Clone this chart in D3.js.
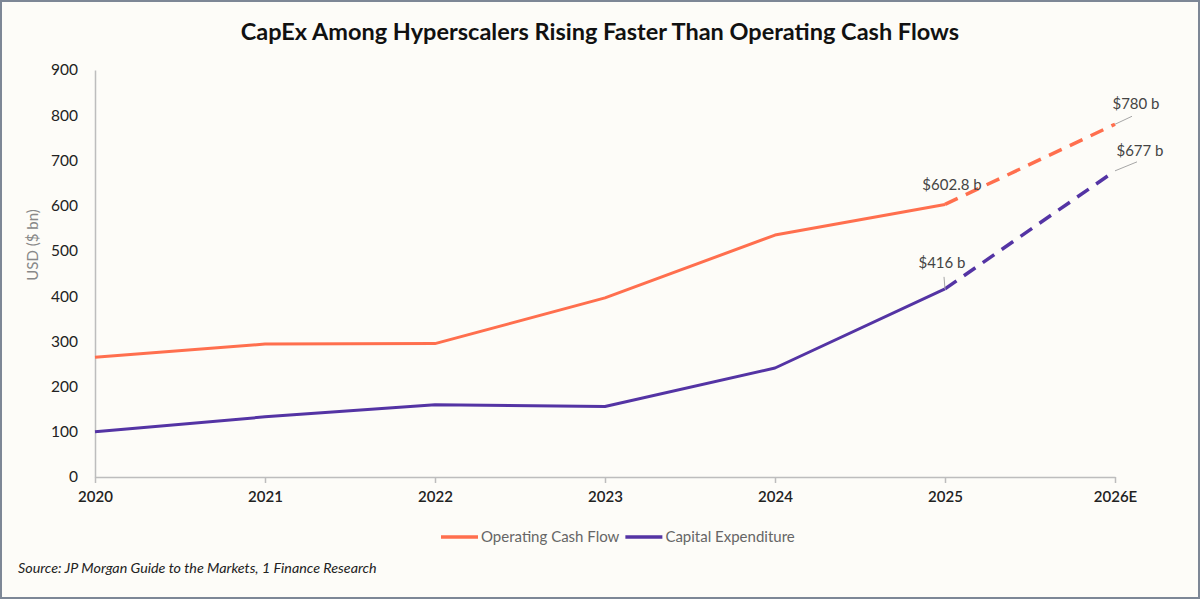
<!DOCTYPE html>
<html lang="en"><head><meta charset="utf-8">
<script src="https://cdn.jsdelivr.net/npm/d3@7/dist/d3.min.js"></script>
<style>
  body { margin: 0; background: #fff; }
  text { font-family: Lato, "Open Sans", sans-serif; }
</style>
</head>
<body>
<script>
// chart data
var years = ["2020", "2021", "2022", "2023", "2024", "2025", "2026E"];
var cashFlow = [265, 294, 295, 396, 535, 602.8, 780];
var capex = [100, 133, 160, 156, 241, 416, 677];
var yTicks = [0, 100, 200, 300, 400, 500, 600, 700, 800, 900];
var seriesNames = ["Operating Cash Flow", "Capital Expenditure"];
var seriesColors = ["#ff6f4e", "#5434a4"];
// callouts: series index, year index, label
var callouts = [
  {s: 0, i: 5, label: "$602.8 b", tx: 7, ty: -14, lead: null},
  {s: 0, i: 6, label: "$780 b", tx: 21, ty: -15, lead: [17, -8]},
  {s: 1, i: 5, label: "$416 b", tx: -3, ty: -21, lead: [-1, -12]},
  {s: 1, i: 6, label: "$677 b", tx: 25, ty: -15, lead: [22, -9]}
];

var width = 1200, height = 600;
var margin = {left: 95, right: 85, top: 70, bottom: 123};

var svg = d3.select("body").append("svg")
  .attr("width", width).attr("height", height);

svg.append("rect").attr("x", 1).attr("y", 1)
  .attr("width", width - 2).attr("height", height - 3)
  .attr("fill", "#fdfcf8").attr("stroke", "#7d8796").attr("stroke-width", 2);

var x = d3.scalePoint().domain(years).range([margin.left, width - margin.right]);
var y = d3.scaleLinear().domain([0, 900]).range([height - margin.bottom, margin.top]);

svg.append("text")
  .attr("x", 600).attr("y", 40)
  .attr("text-anchor", "middle")
  .attr("font-size", 23.5).attr("font-weight", "bold").attr("fill", "#111")
  .text("CapEx Among Hyperscalers Rising Faster Than Operating Cash Flows");

// y axis
var yAxis = svg.append("g")
  .attr("transform", "translate(" + margin.left + ",0)")
  .call(d3.axisLeft(y).tickValues(yTicks).tickSize(0).tickPadding(17));
yAxis.select(".domain").attr("stroke", "#bdbdbd").attr("stroke-width", 1.5);
yAxis.selectAll("text").attr("font-size", 15.5).attr("fill", "#222")
  .style("font-family", "Lato, sans-serif");

// x axis
var xAxis = svg.append("g")
  .attr("transform", "translate(0," + y(0) + ")")
  .call(d3.axisBottom(x).tickSizeInner(6).tickSizeOuter(0).tickPadding(8));
xAxis.select(".domain").attr("stroke", "#bdbdbd").attr("stroke-width", 1.5);
xAxis.selectAll(".tick line").attr("stroke", "#bdbdbd").attr("stroke-width", 1.5);
xAxis.selectAll("text").attr("font-size", 15).attr("font-weight", 600).attr("fill", "#222")
  .style("font-family", "Lato, sans-serif");

svg.append("text")
  .attr("transform", "translate(38,245) rotate(-90)")
  .attr("text-anchor", "middle")
  .attr("font-size", 15).attr("fill", "#888")
  .text("USD ($ bn)");

var line = d3.line().x(function(d) { return x(d.year); }).y(function(d) { return y(d.v); });

[cashFlow, capex].forEach(function(vals, s) {
  var pts = vals.map(function(v, i) { return {year: years[i], v: v}; });
  svg.append("path").datum(pts.slice(0, 6))
    .attr("d", line).attr("fill", "none")
    .attr("stroke", seriesColors[s]).attr("stroke-width", 3)
    .attr("stroke-linejoin", "round");
  svg.append("path").datum(pts.slice(5))
    .attr("d", line).attr("fill", "none")
    .attr("stroke", seriesColors[s]).attr("stroke-width", 3.5)
    .attr("stroke-dasharray", "14,9");
});

callouts.forEach(function(c) {
  var vals = c.s == 0 ? cashFlow : capex;
  var px = x(years[c.i]), py = y(vals[c.i]);
  if (c.lead) {
    svg.append("line")
      .attr("x1", px).attr("y1", py)
      .attr("x2", px + c.lead[0]).attr("y2", py + c.lead[1])
      .attr("stroke", "#a6a6a6").attr("stroke-width", 1);
  }
  svg.append("text")
    .attr("x", px + c.tx).attr("y", py + c.ty)
    .attr("text-anchor", "middle")
    .attr("font-size", 15).attr("fill", "#444")
    .text(c.label);
});

// legend
var legend = svg.append("g").attr("transform", "translate(441,537)");
var lx = 0;
seriesNames.forEach(function(n, i) {
  legend.append("line").attr("x1", lx).attr("x2", lx + 37)
    .attr("stroke", seriesColors[i]).attr("stroke-width", 3.5);
  var t = legend.append("text").attr("x", lx + 40).attr("y", 5)
    .attr("font-size", 15).attr("fill", "#666").text(n);
  lx += 40 + t.node().getComputedTextLength() + 6;
});

svg.append("text")
  .attr("x", 18).attr("y", 573)
  .attr("font-size", 14.3).attr("font-style", "italic").attr("fill", "#222")
  .text("Source: JP Morgan Guide to the Markets, 1 Finance Research");
</script>
</body></html>
